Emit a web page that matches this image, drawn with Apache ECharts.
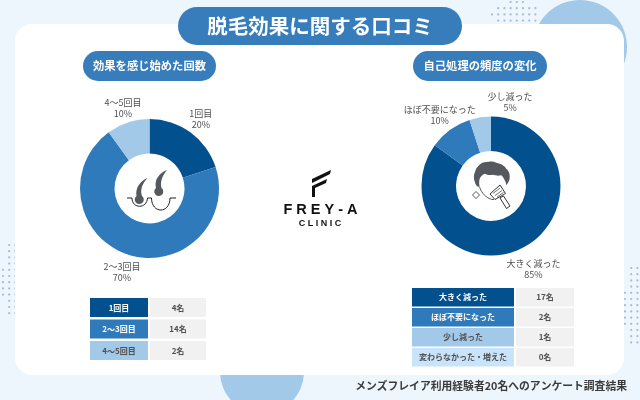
<!DOCTYPE html>
<html>
<head>
    <meta charset="utf-8">
    <title>脱毛効果に関する口コミ</title>
    <script src="https://cdn.jsdelivr.net/npm/echarts@6/dist/echarts.min.js"></script>
    <style>
        html, body { margin: 0; padding: 0; background: #eef6fd; }
        #chart { width: 640px; height: 400px; }
    </style>
</head>
<body>
<div id="chart"></div>
<script type="text/javascript">
    var titleText = '脱毛効果に関する口コミ';
    var footerText = 'メンズフレイア利用経験者20名へのアンケート調査結果';

    // left chart
    var leftTitle = '効果を感じ始めた回数';
    var leftNames = ['1回目', '2～3回目', '4～5回目'];
    var leftValues = [20, 70, 10];
    var leftCounts = ['4名', '14名', '2名'];

    // right chart
    var rightTitle = '自己処理の頻度の変化';
    var rightNames = ['大きく減った', 'ほぼ不要になった', '少し減った'];
    var rightValues = [85, 10, 5];
    var rightRows = ['大きく減った', 'ほぼ不要になった', '少し減った', '変わらなかった・増えた'];
    var rightCounts = ['17名', '2名', '1名', '0名'];

    var FONT = '"Noto Sans CJK JP", "Noto Sans", sans-serif';
    var DARK = '#03508f', MID = '#2f7aba', LIGHT = '#a3c9e9', PALE = '#c8e3fa', GRAY = '#f1f1f1', TEXT = '#505050';
    var ROW_COLORS = [DARK, MID, LIGHT, PALE];
    var ROW_TEXT = ['#fff', '#fff', TEXT, TEXT];

    var g = [];

    // graphic has no plain path type, so each svg path gets its own shape name
    var pathCount = 0;
    function addPath(d, style) {
        var name = 'iconPath' + (pathCount++);
        echarts.graphic.registerShape(name, echarts.graphic.extendPath(d, {}));
        g.push({ type: name, z: 4, style: style });
    }

    // ------background start----------
    function addDots(x0, y0, cols, rows) {
        for (var c = 0; c < cols; c++) {
            for (var r = 0; r < rows; r++) {
                // fade the dots towards the corners of the patch
                if (Math.abs(c - cols / 2) / cols + Math.abs(r - rows / 2) / rows > 0.72) continue;
                g.push({ type: 'circle', z: 1, shape: { cx: x0 + c * 6.2, cy: y0 + r * 6.2, r: 1.1 },
                    style: { fill: '#aab6da' } });
            }
        }
    }
    g.push({ type: 'rect', z: 0, shape: { x: 0, y: 0, width: 640, height: 400 }, style: { fill: '#eef6fd' } });
    addDots(492, 2, 8, 4);
    addDots(3, 245, 3, 12);
    addDots(625, 268, 3, 13);
    g.push({ type: 'circle', z: 1, shape: { cx: 580, cy: 47, r: 47 }, style: { fill: LIGHT } });
    g.push({ type: 'circle', z: 1, shape: { cx: 262, cy: 372, r: 42 }, style: { fill: LIGHT } });
    g.push({ type: 'rect', z: 2, shape: { x: 15, y: 24, width: 609, height: 351, r: 17 }, style: { fill: '#fff' } });
    // ------background end----------

    function addPill(x, y, w, h, text, size) {
        g.push({ type: 'rect', z: 3, shape: { x: x, y: y, width: w, height: h, r: h / 2 }, style: { fill: '#377dbb' } });
        g.push({ type: 'text', z: 4, x: x + w / 2, y: y + h / 2, style: {
            text: text, fill: '#fff', font: '700 ' + size + 'px ' + FONT, align: 'center', verticalAlign: 'middle' } });
    }
    addPill(178, 7, 284, 38, titleText, 20.5);
    addPill(83, 51, 133, 30, leftTitle, 11.3);
    addPill(413, 51, 134, 30, rightTitle, 11.3);

    // ------tables start----------
    function addCell(x, y, w, h, fill, text, color, weight) {
        g.push({ type: 'rect', z: 3, shape: { x: x, y: y, width: w, height: h }, style: { fill: fill } });
        g.push({ type: 'text', z: 4, x: x + w / 2, y: y + h / 2, style: {
            text: text, fill: color, font: weight + ' 8px ' + FONT, align: 'center', verticalAlign: 'middle' } });
    }
    leftNames.forEach(function (name, i) {
        var y = 298 + i * 21.5;
        addCell(90, y, 58, 19, ROW_COLORS[i], name, ROW_TEXT[i], 700);
        addCell(150, y, 56, 19, GRAY, leftCounts[i], TEXT, 700);
    });
    rightRows.forEach(function (name, i) {
        var y = 288 + i * 20;
        addCell(412, y, 102, 18.5, ROW_COLORS[i], name, ROW_TEXT[i], 700);
        addCell(516, y, 58, 18.5, GRAY, rightCounts[i], TEXT, 700);
    });
    // ------tables end----------

    // ------logo start----------
    g.push({ type: 'polygon', z: 4, shape: { points: [[312, 179], [331, 170], [330, 174], [312, 183]] }, style: { fill: '#111' } });
    g.push({ type: 'polygon', z: 4, shape: { points: [[312, 186], [327, 179], [326, 183], [315, 188], [315, 197], [312, 197]] }, style: { fill: '#111' } });
    g.push({ type: 'text', z: 4, x: 320.5, y: 210, style: { text: 'F R E Y - A', fill: '#111',
        font: '700 14.5px "Liberation Sans", sans-serif', align: 'center', verticalAlign: 'middle' } });
    g.push({ type: 'text', z: 4, x: 320, y: 224, style: { text: 'C L I N I C', fill: '#111',
        font: '700 9px "Liberation Sans", sans-serif', align: 'center', verticalAlign: 'middle' } });
    // ------logo end----------

    // ------icons start----------
    var ICON = '#55595e';
    // hair follicles
    addPath('M147.5 178 C140 181 135 188 136.5 196 A4.5 4.5 0 1 0 142 196 C140 190 142 184 147.5 178 Z', { fill: ICON });
    addPath('M167 170 C159 173 154 180 156 188 A4.5 4.5 0 1 0 161.5 188 C160 182 162 176 167 170 Z', { fill: ICON });
    addPath('M127 198 L132 198 C132 209 147 209 147.5 198 L151.5 198 C151.5 214 170 214 170 198 L176 198', { fill: 'none', stroke: '#222', lineWidth: 1 });
    // face with razor
    addPath('M476.3 185.3 C474 181 473 176 475 172 C476 167 481 162 486.3 162 C490 161 494 161.5 496.3 162.7 C501 163.5 505 166 506.3 168.7 C509 171 510 174 509.7 177 C510 180 508 183 506.3 185.3 C506 183 505.5 181.5 504.7 180.3 C503.5 178 502.5 176 501.3 175.3 C498 176 495 175.5 493 174.7 C490 175.5 487 175 484.7 173.7 C482 175 480.5 176.5 479.7 178.7 C479 181 479 184 479.7 187 C478 187 477 186.5 476.3 185.3 Z', { fill: ICON });
    addPath('M479.7 187 C480.5 191 484 196 489.7 198.7 C491 199.3 492.5 199.6 494 199.6', { fill: 'none', stroke: '#444', lineWidth: 0.9 });
    g.push({ type: 'polygon', z: 4, shape: { points: [[490, 194], [500, 185], [505.5, 193.5], [495, 199.5]] }, style: { fill: '#fff', stroke: '#333', lineWidth: 1 } });
    addPath('M493 193.5 L500 188 M495 195.5 L502 190.5 M497 197 L503.5 192.5', { fill: 'none', stroke: '#333', lineWidth: 0.7 });
    g.push({ type: 'polygon', z: 4, shape: { points: [[500, 198], [503.5, 196], [510, 206], [506.5, 208.5]] }, style: { fill: '#fff', stroke: '#333', lineWidth: 1 } });
    g.push({ type: 'polygon', z: 4, shape: { points: [[476, 191.5], [479.5, 195], [476, 198.5], [472.5, 195]] }, style: { fill: '#fff', stroke: '#444', lineWidth: 0.9 } });
    // ------icons end----------

    g.push({ type: 'text', z: 4, x: 627, y: 386, style: { text: footerText, fill: '#3a3a3a',
        font: '700 10.8px ' + FONT, align: 'right', verticalAlign: 'middle' } });

    function toData(names, values) {
        return names.map(function (name, i) {
            return { name: name, value: values[i], itemStyle: { color: ROW_COLORS[i] } };
        });
    }

    // a ring with the slices, and an invisible ring that only holds the centred labels
    function ring(center, names, values, offsets) {
        return [{
            type: 'pie', center: center, radius: [35, 69.5], startAngle: 90, silent: true,
            label: { show: false }, labelLine: { show: false },
            data: toData(names, values)
        }, {
            type: 'pie', center: center, radius: [80, 92], startAngle: 90, silent: true,
            itemStyle: { color: 'rgba(0,0,0,0)' }, labelLine: { show: false },
            label: { show: true, position: 'inner', color: TEXT, fontFamily: FONT, fontSize: 9, lineHeight: 11,
                formatter: '{b}\n{c}%' },
            data: names.map(function (name, i) {
                return { name: name, value: values[i], label: { offset: offsets[i] } };
            })
        }];
    }

    var chart = echarts.init(document.getElementById('chart'), null, { renderer: 'canvas' });
    chart.setOption({
        animation: false,
        graphic: { elements: g },
        series: ring([149.5, 188.5], leftNames, leftValues, [[-1, 3], [0, -1], [1, 4]])
            .concat(ring([491, 186], rightNames, rightValues, [[2, 4], [1, 1], [33, 4]]))
    });
</script>
</body>
</html>
